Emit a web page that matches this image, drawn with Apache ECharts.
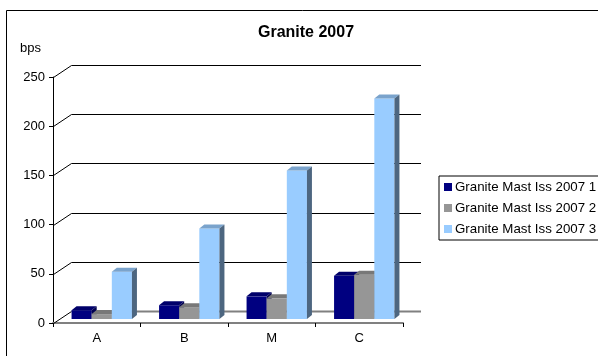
<!DOCTYPE html>
<html>
<head>
<meta charset="utf-8">
<script src="https://cdn.jsdelivr.net/npm/echarts@6/dist/echarts.min.js"></script>
<style>
html,body{margin:0;padding:0;background:#fff;}
#chart{width:598px;height:356px;}
</style>
</head>
<body>
<div id="chart"></div>
<script>
var categories = ['A', 'B', 'M', 'C'];
var seriesNames = ['Granite Mast Iss 2007 1', 'Granite Mast Iss 2007 2', 'Granite Mast Iss 2007 3'];
var series1 = [9, 14, 23, 44];
var series2 = [5, 12, 21, 45];
var series3 = [48, 92, 151, 224];
var yTicks = [0, 50, 100, 150, 200, 250];

var FONT = '"Liberation Sans", Arial, sans-serif';
var faceColors = [
  {front: '#000080', top: '#00006a', side: '#000050'},
  {front: '#969696', top: '#787878', side: '#5a5a5a'},
  {front: '#99ccff', top: '#7aa3cc', side: '#4d6680'}
];
// 3D depth offsets (pixels)
var WALL_DX = 18, WALL_DY = 12;   // back wall offset
var BAR_FX = 5, BAR_FY = 4;       // bar front plane offset from axis plane
var BAR_DX = 5, BAR_DY = 4;       // bar depth

function barRenderer(k) {
  return function (params, api) {
    var ci = api.value(0), v = api.value(1);
    var band = api.size([1, 0])[0];
    var bw = band * 0.23;
    var base = api.coord([ci, 0]);
    var topP = api.coord([ci, v]);
    var x0 = base[0] + BAR_FX - 1.5 * bw + k * bw;
    var yb = base[1] - BAR_FY;
    var yt = topP[1] - BAR_FY;
    var c = faceColors[k];
    return {
      type: 'group',
      children: [
        {type: 'rect', z2: 10, shape: {x: x0, y: yt, width: bw, height: yb - yt}, style: {fill: c.front}},
        {type: 'polygon', z2: 10, shape: {points: [[x0, yt], [x0 + bw, yt], [x0 + bw + BAR_DX, yt - BAR_DY], [x0 + BAR_DX, yt - BAR_DY]]}, style: {fill: c.top}},
        {type: 'polygon', z2: 10, shape: {points: [[x0 + bw, yt], [x0 + bw + BAR_DX, yt - BAR_DY], [x0 + bw + BAR_DX, yb - BAR_DY], [x0 + bw, yb]]}, style: {fill: c.side}}
      ]
    };
  };
}

function frameRenderer(params, api) {
  var cs = params.coordSys;
  var v = api.value(1);
  var y = Math.round(api.coord([0, v])[1]) + 0.5;
  var xl = cs.x + 0.5;
  var isFloor = v === 0;
  return {
    type: 'group',
    children: [
      {type: 'line', shape: {x1: xl, y1: y, x2: xl + WALL_DX, y2: y - WALL_DY}, style: {stroke: '#000', lineWidth: 1}},
      {type: 'line', shape: {x1: xl + WALL_DX, y1: y - WALL_DY, x2: cs.x + cs.width + WALL_DX, y2: y - WALL_DY},
        style: {stroke: isFloor ? '#808080' : '#000', lineWidth: isFloor ? 2 : 1}}
    ]
  };
}

var allValues = [series1, series2, series3];
var seriesList = [{
  type: 'custom',
  name: 'frame',
  silent: true,
  zlevel: 0,
  z: 1,
  renderItem: frameRenderer,
  encode: {x: 0, y: 1},
  data: yTicks.map(function (t) { return [0, t]; })
}];
allValues.forEach(function (vals, k) {
  seriesList.push({
    type: 'custom',
    name: seriesNames[k],
    zlevel: 1,
    z: 2 + k,
    itemStyle: {color: faceColors[k].front},
    renderItem: barRenderer(k),
    encode: {x: 0, y: 1},
    data: vals.map(function (v, i) { return [i, v]; })
  });
});

var chart = echarts.init(document.getElementById('chart'), null, {renderer: 'canvas'});
chart.setOption({
  animation: false,
  backgroundColor: '#fff',
  textStyle: {fontFamily: FONT},
  grid: {left: 53, top: 77, width: 350, height: 246, containLabel: false},
  legend: {
    data: seriesNames,
    orient: 'vertical',
    left: 439,
    top: 176,
    padding: [4, 12, 4, 5],
    itemWidth: 8,
    itemHeight: 8,
    itemGap: 7,
    icon: 'rect',
    borderColor: '#000',
    borderWidth: 1,
    textStyle: {fontFamily: FONT, fontSize: 13.3, color: '#000', lineHeight: 14, padding: [0, 0, 0, -2]}
  },
  xAxis: {
    type: 'category',
    data: categories,
    boundaryGap: true,
    axisLine: {show: true, lineStyle: {color: '#808080', width: 2}},
    axisTick: {show: true, interval: 0, length: 4, lineStyle: {color: '#000', width: 1}},
    axisLabel: {fontFamily: FONT, fontSize: 13, color: '#000', margin: 9},
    splitLine: {show: false}
  },
  yAxis: {
    type: 'value',
    min: 0,
    max: 250,
    interval: 50,
    axisLine: {show: true, lineStyle: {color: '#000', width: 1}},
    axisTick: {show: true, length: 4, lineStyle: {color: '#000'}},
    axisLabel: {fontFamily: FONT, fontSize: 13, color: '#000', margin: 8},
    splitLine: {show: false}
  },
  graphic: [
    {type: 'rect', silent: true, zlevel: 2, shape: {x: 6.5, y: 10.5, width: 700, height: 400},
      style: {fill: 'none', stroke: '#000', lineWidth: 1}},
    {type: 'text', silent: true, zlevel: 2, style: {text: 'Granite 2007', x: 306, y: 33, textAlign: 'center', textVerticalAlign: 'middle',
      font: 'bold 16px "Liberation Sans", Arial, sans-serif', fill: '#000'}},
    {type: 'text', silent: true, zlevel: 2, style: {text: 'bps', x: 20, y: 48, textAlign: 'left', textVerticalAlign: 'middle',
      font: '13px "Liberation Sans", Arial, sans-serif', fill: '#000'}}
  ],
  series: seriesList
});
</script>
</body>
</html>
